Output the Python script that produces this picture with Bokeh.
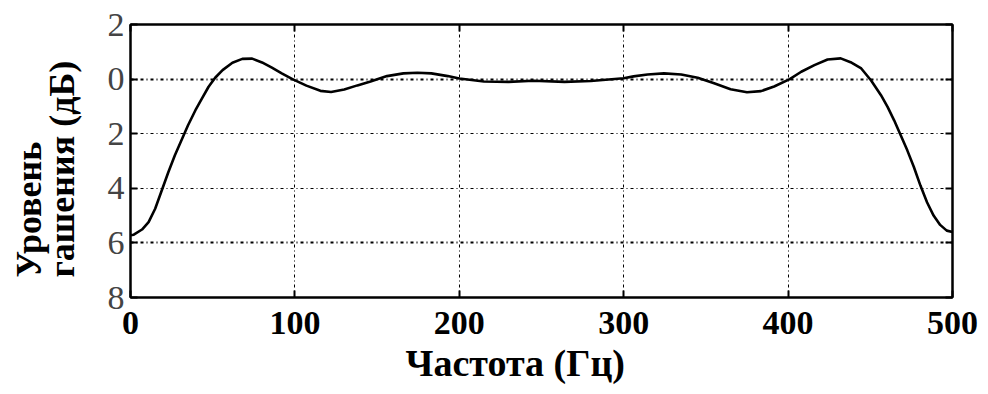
from bokeh.plotting import figure
from bokeh.models import Range1d, FixedTicker, LinearAxis, Grid, Title
from bokeh.embed import file_html
from bokeh.resources import INLINE

# ---- data ----
freq = [0, 2, 7, 11, 15, 19, 23, 27, 31, 35, 39.5, 43.5, 47.5, 51.5, 56, 62, 68, 74, 80,
        86, 92, 98.5, 107, 115.5, 122, 130, 138, 146, 156, 166, 174.5, 183, 193, 200, 215,
        230, 245, 264, 280, 300, 306, 314.5, 324.5, 335, 345, 355, 365, 375, 383.5, 391.5,
        401, 408, 416, 424, 432, 438, 444.5, 450.5, 456.5, 460.5, 464.5, 468.5, 472.5,
        476.5, 480.5, 484.5, 488.5, 492.5, 496.5, 500]
level = [-5.72, -5.70, -5.51, -5.24, -4.75, -4.08, -3.41, -2.79, -2.24, -1.69, -1.14,
         -0.71, -0.28, 0.05, 0.33, 0.60, 0.74, 0.75, 0.61, 0.42, 0.21, 0.0, -0.24, -0.43,
         -0.47, -0.38, -0.23, -0.09, 0.11, 0.21, 0.23, 0.21, 0.11, 0.02, -0.09, -0.10,
         -0.06, -0.10, -0.07, 0.03, 0.10, 0.17, 0.21, 0.17, 0.05, -0.15, -0.37, -0.48,
         -0.44, -0.27, 0.0, 0.27, 0.51, 0.72, 0.76, 0.62, 0.39, -0.05, -0.59, -1.02,
         -1.51, -2.06, -2.61, -3.22, -3.90, -4.51, -5.00, -5.34, -5.55, -5.60]

x_ticks = [0, 100, 200, 300, 400, 500]
y_ticks = [2, 0, -2, -4, -6, -8]
y_tick_labels = ["2", "0", "2", "4", "6", "8"]
x_title = "Частота (Гц)"
y_title_lines = ["Уровень", "гашения (дБ)"]

SERIF = "Liberation Serif"

p = figure(width=988, height=394, output_backend="svg", toolbar_location=None,
           x_range=Range1d(0, 500), y_range=Range1d(-8, 2),
           min_border_left=130, min_border_right=36, min_border_top=24,
           min_border_bottom=97)
p.background_fill_color = "white"
p.border_fill_color = "white"
p.outline_line_color = "black"
p.outline_line_width = 2

# grids
p.xgrid.ticker = FixedTicker(ticks=x_ticks[1:-1])
p.xgrid.grid_line_color = "black"
p.xgrid.grid_line_width = 1
p.xgrid.grid_line_dash = "3 3 1 3"
p.ygrid.ticker = FixedTicker(ticks=[-2, -4])
p.ygrid.grid_line_color = "black"
p.ygrid.grid_line_width = 1
p.ygrid.grid_line_dash = "3 3 1 3"
g2 = Grid(dimension=1, ticker=FixedTicker(ticks=[0, -6]), grid_line_color="black",
          grid_line_width=2, grid_line_dash="3 3 1 3")
p.add_layout(g2)

# axes
xa = p.xaxis[0]
xa.ticker = FixedTicker(ticks=x_ticks)
xa.major_label_text_font = SERIF
xa.major_label_text_font_style = "bold"
xa.major_label_text_font_size = "34px"
xa.major_label_text_color = "black"
xa.major_label_standoff = 14

ya = p.yaxis[0]
ya.ticker = FixedTicker(ticks=y_ticks)
ya.major_label_overrides = {t: s for t, s in zip(y_ticks, y_tick_labels)}
ya.major_label_text_font = SERIF
ya.major_label_text_font_size = "34px"
ya.major_label_text_color = "#444444"
ya.major_label_standoff = 6
# blank spacer label: keeps a gap between tick labels and the title lines
ya.axis_label = " "
ya.axis_label_text_font_size = "1px"
ya.axis_label_standoff = 28

top = LinearAxis(ticker=FixedTicker(ticks=x_ticks), major_label_text_font_size="0px",
                 major_label_standoff=0)
right = LinearAxis(ticker=FixedTicker(ticks=y_ticks), major_label_text_font_size="0px",
                   major_label_standoff=0)
p.add_layout(top, "above")
p.add_layout(right, "right")

for ax in [xa, ya, top, right]:
    ax.axis_line_color = "black"
    ax.axis_line_width = 2
    ax.major_tick_in = 7
    ax.major_tick_out = 0
    ax.major_tick_line_color = "black"
    ax.major_tick_line_width = 2
    ax.minor_tick_line_color = None

# axis titles as side titles (start-aligned like the reference)
title_style = dict(text_font=SERIF, text_font_style="bold", text_color="black")
p.add_layout(Title(text=x_title, align="left", offset=275, standoff=6,
                   text_line_height=0.9, text_font_size="38px", **title_style), "below")
p.add_layout(Title(text=y_title_lines[1], align="left", offset=20, standoff=-18,
                   text_font_size="36px", **title_style), "left")
p.add_layout(Title(text=y_title_lines[0], align="left", offset=20, standoff=0,
                   text_font_size="36px", **title_style), "left")

# curve
p.line(freq, level, line_color="black", line_width=2.6)

open("out.html", "w").write(file_html(p, INLINE))
